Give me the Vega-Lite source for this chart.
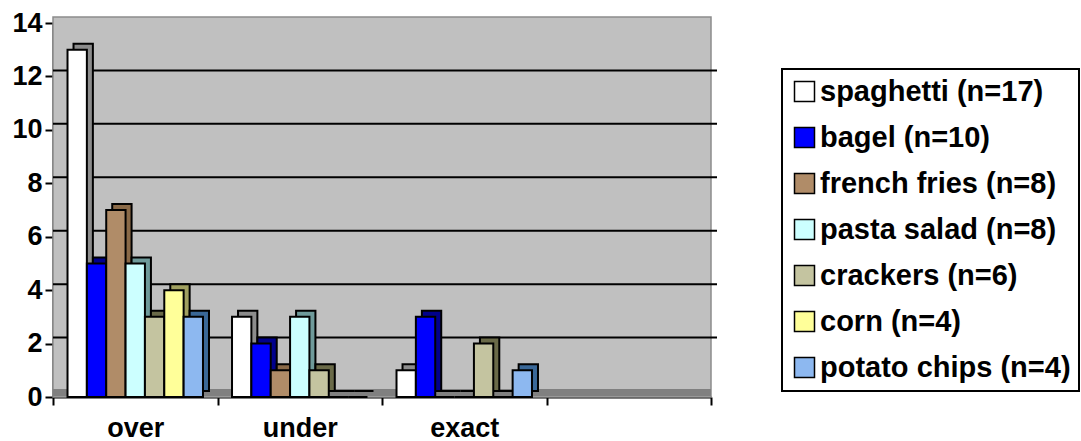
{
  "$schema": "https://vega.github.io/schema/vega-lite/v6.json",
  "width": 658,
  "height": 374,
  "autosize": "none",
  "padding": {"left": 53, "top": 23, "right": 370, "bottom": 44},
  "background": "white",
  "config": {
    "font": "Liberation Sans",
    "view": {"fill": null, "stroke": null},
    "axis": {"labelFont": "Liberation Sans", "labelFontWeight": "bold", "labelColor": "black", "labelFontSize": 27, "domainColor": "black", "domainWidth": 2, "tickColor": "black", "tickWidth": 2, "tickSize": 8, "title": null, "grid": false},
    "legend": {"labelFont": "Liberation Sans", "labelFontWeight": "bold", "labelFontSize": 29, "labelColor": "black", "symbolType": "square", "symbolSize": 400, "symbolStrokeColor": "black", "symbolStrokeWidth": 1.5, "symbolOpacity": 1, "labelOffset": 1, "rowPadding": 16, "padding": 8, "strokeColor": "black", "strokeWidth": 2, "fillColor": "white", "labelLimit": 400, "title": null}
  },
  "datasets": {
    "counts": [
      {"outcome": "over", "food": "spaghetti (n=17)", "count": 13},
      {"outcome": "over", "food": "bagel (n=10)", "count": 5},
      {"outcome": "over", "food": "french fries (n=8)", "count": 7},
      {"outcome": "over", "food": "pasta salad (n=8)", "count": 5},
      {"outcome": "over", "food": "crackers (n=6)", "count": 3},
      {"outcome": "over", "food": "corn (n=4)", "count": 4},
      {"outcome": "over", "food": "potato chips (n=4)", "count": 3},
      {"outcome": "under", "food": "spaghetti (n=17)", "count": 3},
      {"outcome": "under", "food": "bagel (n=10)", "count": 2},
      {"outcome": "under", "food": "french fries (n=8)", "count": 1},
      {"outcome": "under", "food": "pasta salad (n=8)", "count": 3},
      {"outcome": "under", "food": "crackers (n=6)", "count": 1},
      {"outcome": "under", "food": "corn (n=4)", "count": 0},
      {"outcome": "under", "food": "potato chips (n=4)", "count": 0},
      {"outcome": "exact", "food": "spaghetti (n=17)", "count": 1},
      {"outcome": "exact", "food": "bagel (n=10)", "count": 3},
      {"outcome": "exact", "food": "french fries (n=8)", "count": 0},
      {"outcome": "exact", "food": "pasta salad (n=8)", "count": 0},
      {"outcome": "exact", "food": "crackers (n=6)", "count": 2},
      {"outcome": "exact", "food": "corn (n=4)", "count": 0},
      {"outcome": "exact", "food": "potato chips (n=4)", "count": 1}
    ],
    "gridlines": [{"level": 2}, {"level": 4}, {"level": 6}, {"level": 8}, {"level": 10}, {"level": 12}]
  },
  "data": {"name": "counts"},
  "layer": [
    {
      "mark": {"type": "rect", "fill": "#C0C0C0", "stroke": "#8C8C8C", "strokeWidth": 1.5, "xOffset": 0, "x2Offset": 6, "yOffset": 0, "y2Offset": -6},
      "data": {"values": [{"bottom": 0, "top": 14}]},
      "encoding": {
        "y": {"field": "bottom", "type": "quantitative", "scale": {"domain": [0, 14], "nice": false},
          "axis": {"values": [0, 2, 4, 6, 8, 10, 12, 14], "labelPadding": 3}},
        "y2": {"field": "top"}
      }
    },
    {
      "mark": {"type": "rect", "fill": "#808080", "xOffset": 0, "x2Offset": 6, "yOffset": -1, "y2Offset": -8},
      "data": {"values": [{"bottom": 0, "top": 0}]},
      "encoding": {
        "y": {"field": "bottom", "type": "quantitative"},
        "y2": {"field": "top"}
      }
    },
    {
      "mark": {"type": "rule", "color": "black", "strokeWidth": 2, "xOffset": 6, "x2Offset": 6, "yOffset": -6, "y2Offset": -6},
      "data": {"name": "gridlines"},
      "encoding": {
        "y": {"field": "level", "type": "quantitative"}
      }
    },
    {
      "mark": {"type": "bar", "yOffset": -6, "y2Offset": -6, "stroke": "black", "strokeWidth": 2},
      "encoding": {
        "x": {"field": "outcome", "type": "nominal", "scale": {"domain": ["over", "under", "exact", " "], "paddingInner": 0, "paddingOuter": 0},
          "axis": {"labelAngle": 0, "tickBand": "extent", "labelPadding": 31, "labelBaseline": "alphabetic"}},
        "xOffset": {"field": "food", "type": "nominal", "scale": {"domain": ["spaghetti (n=17)", "bagel (n=10)", "french fries (n=8)", "pasta salad (n=8)", "crackers (n=6)", "corn (n=4)", "potato chips (n=4)"], "paddingInner": 0, "paddingOuter": 0.75, "align": 0.707}},
        "y": {"field": "count", "type": "quantitative"},
        "color": {"field": "food", "type": "nominal", "legend": null,
          "scale": {"domain": ["spaghetti (n=17)", "bagel (n=10)", "french fries (n=8)", "pasta salad (n=8)", "crackers (n=6)", "corn (n=4)", "potato chips (n=4)"],
            "range": ["#8C8C8C", "#00008C", "#8A6A48", "#6E9A9A", "#6A6A48", "#A0A060", "#3A6898"]}}
      }
    },
    {
      "mark": {"type": "bar", "stroke": "black", "strokeWidth": 2},
      "encoding": {
        "x": {"field": "outcome", "type": "nominal"},
        "xOffset": {"field": "food", "type": "nominal", "scale": {"domain": ["spaghetti (n=17)", "bagel (n=10)", "french fries (n=8)", "pasta salad (n=8)", "crackers (n=6)", "corn (n=4)", "potato chips (n=4)"], "paddingInner": 0, "paddingOuter": 0.75, "align": 0.5}},
        "y": {"field": "count", "type": "quantitative"},
        "color": {"field": "food", "type": "nominal",
          "scale": {"domain": ["spaghetti (n=17)", "bagel (n=10)", "french fries (n=8)", "pasta salad (n=8)", "crackers (n=6)", "corn (n=4)", "potato chips (n=4)"],
            "range": ["#FFFFFF", "#0000FF", "#B08C68", "#CCFFFF", "#C4C4A0", "#FFFF99", "#8DB8F0"]},
          "legend": {"orient": "none", "legendX": 729, "legendY": 46}}
      }
    }
  ],
  "resolve": {"scale": {"color": "independent", "xOffset": "independent"}}
}
